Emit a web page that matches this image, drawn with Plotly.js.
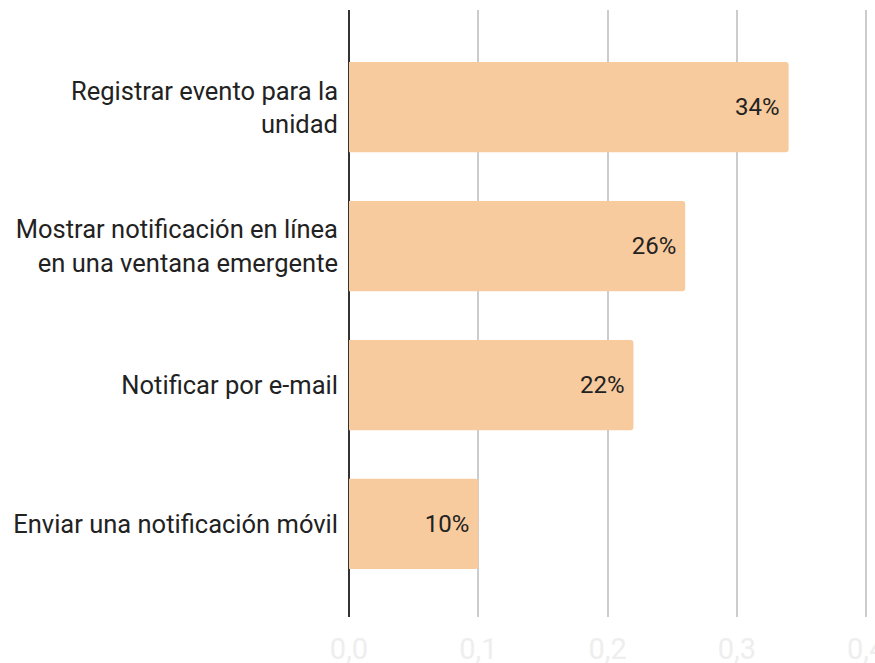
<!DOCTYPE html>
<html>
<head>
<meta charset="utf-8">
<script src="https://cdn.plot.ly/plotly-3.0.1.min.js"></script>
<style>
  body { margin: 0; background: #fff; }
  #plot { width: 875px; height: 663px; }
</style>
</head>
<body>
<div id="plot"></div>
<script>
// bottom to top
var categories = [
    'Enviar una notificación móvil',
    'Notificar por e-mail',
    'Mostrar notificación en línea<br>en una ventana emergente',
    'Registrar evento para la<br>unidad'
];
var shares = [0.10, 0.22, 0.26, 0.34];
var barLabels = ['10%', '22%', '26%', '34%'];
var tickVals = [0, 0.1, 0.2, 0.3, 0.4];
var tickText = ['0,0', '0,1', '0,2', '0,3', '0,4'];

var trace = {
    type: 'bar',
    orientation: 'h',
    x: shares,
    y: categories,
    // a trailing nbsp pushes the label a bit in from the bar end
    text: barLabels.map(function (s) { return s + '\u00a0'; }),
    textposition: 'inside',
    insidetextanchor: 'end',
    textfont: { family: 'Roboto', size: 24, color: '#222' },
    marker: { color: '#f8cb9e', line: { width: 0 } },
    cliponaxis: false,
    hoverinfo: 'none'
};

var layout = {
    width: 875,
    height: 663,
    margin: { l: 349, r: 0, t: 10, b: 46 },
    paper_bgcolor: '#fff',
    plot_bgcolor: '#fff',
    showlegend: false,
    bargap: 0.35,
    barcornerradius: 3,
    font: { family: 'Roboto', color: '#222' },
    xaxis: {
        range: [0, 0.4068],
        tickvals: tickVals,
        ticktext: tickText,
        tickfont: { family: 'Roboto', size: 29, color: '#eeeeee' },
        ticklabelstandoff: 12,
        ticklabeloverflow: 'allow',
        showgrid: true,
        gridcolor: '#cccccc',
        gridwidth: 2,
        zeroline: true,
        zerolinecolor: '#333333',
        zerolinewidth: 2,
        showline: false,
        ticks: ''
    },
    yaxis: {
        type: 'category',
        categoryorder: 'array',
        categoryarray: categories,
        range: [-0.67, 3.7],
        tickfont: { family: 'Roboto', size: 25.5, color: '#222' },
        ticklabelstandoff: 10,
        showgrid: false,
        zeroline: false,
        showline: false,
        ticks: ''
    }
};

Plotly.newPlot('plot', [trace], layout, { displayModeBar: false, staticPlot: true });
</script>
</body>
</html>
